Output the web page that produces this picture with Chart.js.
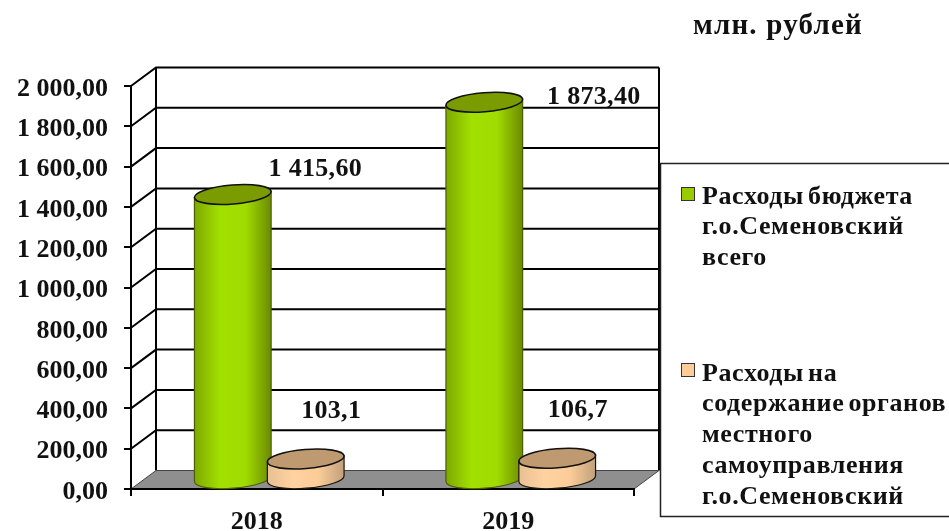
<!DOCTYPE html>
<html>

<head>
	<meta charset="UTF-8">
	<title>Расходы бюджета</title>
	<script src="https://cdn.jsdelivr.net/npm/chart.js"></script>
	<style>
		body {
			margin: 0;
			background: #fff;
			overflow: hidden;
		}

		canvas {
			display: block;
			filter: blur(0.5px);
		}
	</style>
</head>

<body>
	<canvas id="myChart" width="949" height="531"></canvas>
	<script>
		// values
		const categories = ['2018', '2019'];
		const totalExpenses = [1415.6, 1873.4];
		const adminExpenses = [103.1, 106.7];
		const yTicks = [0, 200, 400, 600, 800, 1000, 1200, 1400, 1600, 1800, 2000];
		const unitTitle = 'млн. рублей';
		const totalLegend = ['Расходы бюджета', 'г.о.Семеновский', 'всего'];
		const adminLegend = ['Расходы на', 'содержание органов', 'местного', 'самоуправления', 'г.о.Семеновский'];

		const FONT = 'bold 26px "Liberation Serif"';
		// the fake 3d box: how far the back wall sits from the front plane
		const depthX = 25, depthY = -18.5;

		function ruNumber(v, decimals) {
			const parts = v.toFixed(decimals).split('.');
			parts[0] = parts[0].replace(/\B(?=(\d{3})+$)/g, ' ');
			return parts.join(',');
		}

		function spaced(ctx, text, x, y, spacing, wordGap) {
			ctx.letterSpacing = spacing + 'px';
			ctx.wordSpacing = (wordGap || 0) + 'px';
			ctx.fillText(text, x, y);
			ctx.letterSpacing = '0px';
			ctx.wordSpacing = '0px';
		}

		function drawCylinder(ctx, bar, stops, capColor, lineColor) {
			const cx = bar.x + depthX / 2;
			const top = bar.y + depthY / 2;
			const base = bar.base + depthY / 2;
			const rx = bar.width / 2;
			const ry = 9.5;
			const tilt = -0.08;
			const dx = rx * Math.cos(tilt), dy = rx * Math.sin(tilt);

			const grad = ctx.createLinearGradient(cx - rx, 0, cx + rx, 0);
			stops.forEach((c, i) => grad.addColorStop(i / (stops.length - 1), c));

			ctx.beginPath();
			ctx.ellipse(cx, base, rx, ry, tilt, 0, Math.PI);
			ctx.lineTo(cx - dx, top - dy);
			ctx.lineTo(cx + dx, top + dy);
			ctx.closePath();
			ctx.fillStyle = grad;
			ctx.fill();
			ctx.strokeStyle = lineColor;
			ctx.lineWidth = 1.2;
			ctx.stroke();

			ctx.beginPath();
			ctx.ellipse(cx, top, rx, ry, tilt, 0, Math.PI * 2);
			ctx.fillStyle = capColor;
			ctx.fill();
			ctx.strokeStyle = '#111';
			ctx.lineWidth = 1.6;
			ctx.stroke();
		}

		const boxPlugin = {
			id: 'box3d',
			// walls and floor go under the axes
			beforeDraw(chart) {
				const { ctx, chartArea: a, scales: { y } } = chart;
				const backL = a.left + depthX, backR = a.right + depthX;
				const backB = a.bottom + depthY, backT = a.top + depthY;
				ctx.save();
				ctx.strokeStyle = '#000';
				ctx.lineWidth = 2;
				yTicks.slice(1).forEach(v => {
					const py = y.getPixelForValue(v);
					ctx.beginPath();
					ctx.moveTo(a.left, py);
					ctx.lineTo(backL, py + depthY);
					ctx.lineTo(backR, py + depthY);
					ctx.stroke();
				});
				ctx.beginPath();
				ctx.moveTo(backL, backT);
				ctx.lineTo(backL, backB);
				ctx.moveTo(backR, backT);
				ctx.lineTo(backR, backB);
				ctx.stroke();

				ctx.fillStyle = '#8f8f8f';
				ctx.strokeStyle = '#444';
				ctx.lineWidth = 1;
				ctx.beginPath();
				ctx.moveTo(a.left, a.bottom);
				ctx.lineTo(backL, backB);
				ctx.lineTo(backR, backB);
				ctx.lineTo(a.right, a.bottom);
				ctx.closePath();
				ctx.fill();
				ctx.stroke();
				ctx.restore();
			},
			// the bars are replaced with cylinders placed mid-depth
			beforeDatasetsDraw(chart) {
				const ctx = chart.ctx;
				const green = chart.getDatasetMeta(0).data;
				const peach = chart.getDatasetMeta(1).data;
				ctx.save();
				categories.forEach((c, i) => {
					drawCylinder(ctx, green[i], ['#7ea800', '#a2e000', '#a0dc00', '#6c8a00'], '#7a9c00', '#4c5f00');
					drawCylinder(ctx, peach[i], ['#e8c094', '#ffd2a0', '#fbcc98', '#c0a07c'], '#bf9a70', '#1c1408');
				});
				ctx.restore();
			},
			beforeDatasetDraw() {
				return false;
			},
			afterDraw(chart) {
				const ctx = chart.ctx;
				ctx.save();
				ctx.font = FONT;
				ctx.fillStyle = '#111';
				ctx.textBaseline = 'middle';
				ctx.textAlign = 'center';

				// data labels were moved by hand in the source, so each has its own offset
				const total = chart.getDatasetMeta(0).data;
				const admin = chart.getDatasetMeta(1).data;
				const totalShift = [[95, -34], [122, -14]];
				const adminShift = [[38, -57], [33, -57]];
				categories.forEach((c, i) => {
					spaced(ctx, ruNumber(totalExpenses[i], 2), total[i].x + totalShift[i][0], total[i].y + totalShift[i][1], 0.3);
					spaced(ctx, ruNumber(adminExpenses[i], 1), admin[i].x + adminShift[i][0], admin[i].y + adminShift[i][1], 0.3);
				});

				ctx.textAlign = 'left';
				ctx.font = 'bold 29px "Liberation Serif"';
				spaced(ctx, unitTitle, 693, 27, 1.2);
				ctx.font = FONT;

				// legend box runs off the right edge of the picture
				ctx.fillStyle = '#fff';
				ctx.fillRect(661, 164, 288, 352);
				ctx.strokeStyle = '#222';
				ctx.lineWidth = 1.5;
				ctx.beginPath();
				ctx.moveTo(949, 163.5);
				ctx.lineTo(660.5, 163.5);
				ctx.lineTo(660.5, 516.5);
				ctx.lineTo(949, 516.5);
				ctx.stroke();

				const items = [
					[totalLegend, chart.data.datasets[0].backgroundColor, 187, 197],
					[adminLegend, chart.data.datasets[1].backgroundColor, 363, 374]
				];
				items.forEach(([lines, color, boxTop, textY]) => {
					ctx.fillStyle = color;
					ctx.strokeStyle = '#333';
					ctx.lineWidth = 1;
					ctx.fillRect(681.5, boxTop + 0.5, 13, 13);
					ctx.strokeRect(681.5, boxTop + 0.5, 13, 13);
					ctx.fillStyle = '#111';
					lines.forEach((t, i) => spaced(ctx, t, 702, textY + i * 30.7, 0.6, -3));
				});
				ctx.restore();
			}
		};

		new Chart(document.getElementById('myChart'), {
			type: 'bar',
			data: {
				labels: categories,
				datasets: [
					{ label: totalLegend.join(' '), data: totalExpenses, backgroundColor: '#99cc00' },
					{ label: adminLegend.join(' '), data: adminExpenses, backgroundColor: '#ffcc99' }
				]
			},
			options: {
				responsive: false,
				animation: false,
				categoryPercentage: 0.58,
				barPercentage: 1.055,
				layout: { padding: { top: 86, right: 315, left: 0, bottom: 0 } },
				scales: {
					x: {
						afterFit(s) { s.height = 42; },
						border: { color: '#000', width: 2 },
						grid: { drawOnChartArea: false, color: '#000', lineWidth: 2, tickLength: 7 },
						ticks: { color: '#111', font: { family: 'Liberation Serif', weight: 'bold', size: 26 }, padding: 11, maxRotation: 0 }
					},
					y: {
						min: 0,
						max: 2000,
						afterFit(s) { s.width = 131; },
						afterBuildTicks(s) { s.ticks = yTicks.map(v => ({ value: v })); },
						border: { color: '#000', width: 2 },
						grid: { drawOnChartArea: false, color: '#000', lineWidth: 2, tickLength: 7 },
						ticks: {
							color: '#111',
							// small line height with an empty first line nudges the text down a bit
							font: { family: 'Liberation Serif', weight: 'bold', size: 26, lineHeight: '6px' },
							padding: 16,
							callback: v => ['', ruNumber(v, 2)]
						}
					}
				},
				plugins: {
					legend: { display: false },
					tooltip: { enabled: false }
				}
			},
			plugins: [boxPlugin]
		});
	</script>
</body>

</html>
